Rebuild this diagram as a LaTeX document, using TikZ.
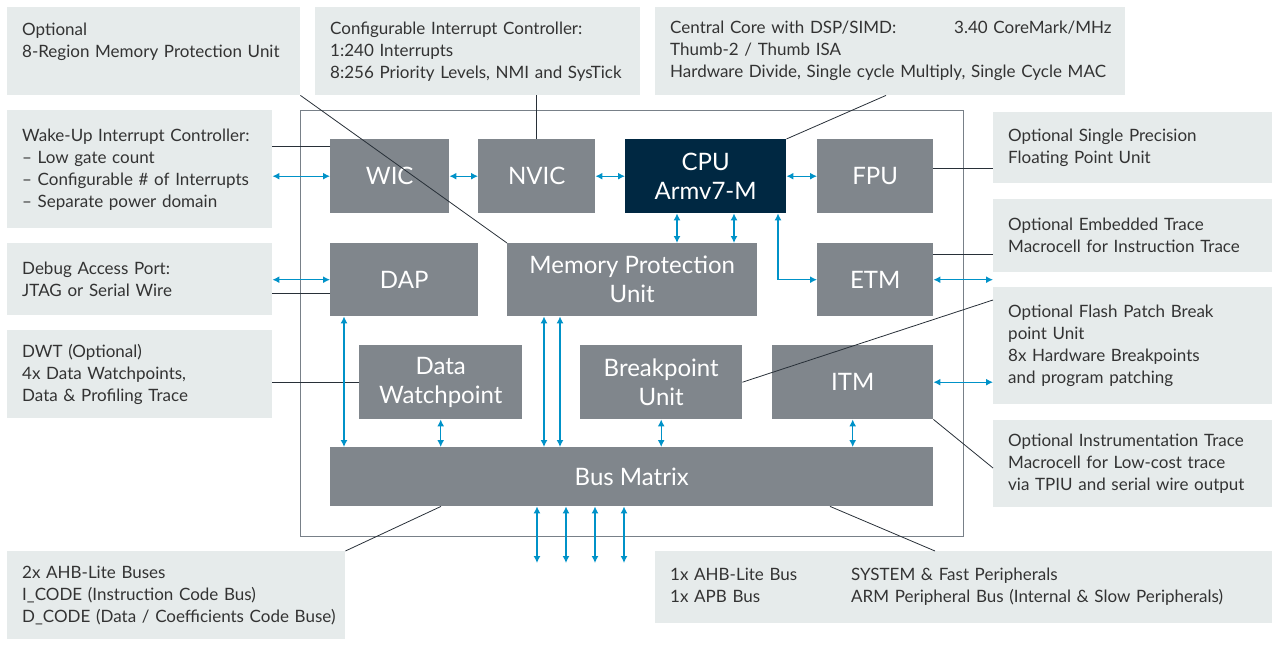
\documentclass[tikz,border=0pt]{standalone}
\usepackage{fontspec}
\setmainfont{Lato}
\usetikzlibrary{arrows.meta}
\definecolor{notefill}{RGB}{230,235,235}
\definecolor{notetext}{RGB}{51,51,51}
\definecolor{blkfill}{RGB}{128,134,140}
\definecolor{cpufill}{RGB}{0,40,66}
\definecolor{linkblue}{RGB}{0,146,200}
\definecolor{wiregray}{RGB}{40,48,56}
\definecolor{framegray}{RGB}{120,128,136}
\begin{document}
\begin{tikzpicture}[x=1pt,y=-1pt,
    note/.style={fill=notefill,text=notetext,anchor=north west,inner xsep=15pt,inner ysep=0pt,align=left,font=\fontsize{17}{22}\selectfont},
    blk/.style={fill=blkfill,text=white,anchor=north west,inner sep=0pt,align=center,font=\fontsize{24}{29}\selectfont},
    link/.style={draw=linkblue,line width=1.3pt,{Latex[length=7pt,width=7pt]}-{Latex[length=7pt,width=7pt]}},
    wire/.style={draw=wiregray,line width=0.8pt}]
    \useasboundingbox (0,0) rectangle (1279,645);
    \node[draw=framegray,line width=1.2pt,anchor=north west,inner sep=0pt,minimum width=663pt,minimum height=426pt] (chip) at (300,110) {};

    \node[note,text width=263pt,minimum height=88pt] (mpunote) at (7,7) {Optional\\8-Region Memory Protection Unit\\\mbox{}};
    \node[note,text width=295pt,minimum height=88pt] (nvicnote) at (315,7) {Configurable Interrupt Controller:\\1:240 Interrupts\\8:256 Priority Levels, NMI and SysTick};
    \node[note,text width=440pt,minimum height=88pt] (cpunote) at (655,7) {\makebox[284pt][l]{Central Core with DSP/SIMD:}\mbox{3.40 CoreMark/MHz}\\Thumb-2 / Thumb ISA\\Hardware Divide, Single cycle Multiply, Single Cycle MAC};
    \node[note,text width=235pt,minimum height=118pt] (wicnote) at (7,110) {Wake-Up Interrupt Controller:\\-- Low gate count\\-- Configurable \# of Interrupts\\-- Separate power domain};
    \node[note,text width=235pt,minimum height=72pt] (dapnote) at (7,243) {Debug Access Port:\\JTAG or Serial Wire};
    \node[note,text width=235pt,minimum height=88pt] (dwtnote) at (7,330) {DWT (Optional)\\4x Data Watchpoints,\\Data \& Profiling Trace};
    \node[note,text width=308pt,minimum height=88pt] (busnotea) at (7,551) {2x AHB-Lite Buses\\I\_CODE (Instruction Code Bus)\\\mbox{D\_CODE (Data / Coefficients Code Buse)}};
    \node[note,text width=249pt,minimum height=71pt] (fpunote) at (993,112) {Optional Single Precision\\Floating Point Unit};
    \node[note,text width=249pt,minimum height=73pt] (etmnote) at (993,199) {Optional Embedded Trace\\Macrocell for Instruction Trace};
    \node[note,text width=249pt,minimum height=117pt] (fpbnote) at (993,287) {Optional Flash Patch Break\\point Unit\\8x Hardware Breakpoints\\and program patching};
    \node[note,text width=249pt,minimum height=87pt] (itmnote) at (993,420) {Optional Instrumentation Trace\\Macrocell for Low-cost trace\\via TPIU and serial wire output};
    \node[note,text width=587pt,minimum height=72pt] (busnoteb) at (655,551) {\begin{tabular}{@{}p{181pt}@{}l@{}}1x AHB-Lite Bus & SYSTEM \& Fast Peripherals\\1x APB Bus & ARM Peripheral Bus (Internal \& Slow Peripherals)\end{tabular}};

    \node[blk,minimum width=119pt,minimum height=74pt] (wic) at (330,139) {WIC};
    \node[blk,minimum width=117pt,minimum height=74pt] (nvic) at (478,139) {NVIC};
    \node[blk,fill=cpufill,minimum width=161pt,minimum height=74pt] (cpu) at (625,139) {CPU\\Armv7-M};
    \node[blk,minimum width=116pt,minimum height=74pt] (fpu) at (817,139) {FPU};
    \node[blk,minimum width=148pt,minimum height=73pt] (dap) at (330,243) {DAP};
    \node[blk,minimum width=250pt,minimum height=73pt] (mpu) at (507,243) {Memory Protection\\Unit};
    \node[blk,minimum width=116pt,minimum height=73pt] (etm) at (817,243) {ETM};
    \node[blk,minimum width=163pt,minimum height=74pt] (dw) at (359,345) {Data\\Watchpoint};
    \node[blk,minimum width=162pt,minimum height=74pt] (bp) at (580,345) {Breakpoint\\Unit};
    \node[blk,minimum width=161pt,minimum height=74pt] (itm) at (772,345) {ITM};
    \node[blk,minimum width=603pt,minimum height=59pt] (bus) at (330,447) {Bus Matrix};

    \draw[wire] (mpunote.south east) -- (mpu.north west);
    \draw[wire] (nvic.north |- nvicnote.south) -- (nvic.north);
    \draw[wire] ([xshift=231pt]cpunote.south west) -- (cpu.north east);
    \draw[wire] ([yshift=-7pt]wic.north west) -- ([yshift=-7pt]wic.north west -| wicnote.east);
    \draw[wire] ([yshift=-50pt]dap.north west) -- ([yshift=-50pt]dap.north west -| dapnote.east);
    \draw[wire] (dw.west) -- (dw.west -| dwtnote.east);
    \draw[wire] ([yshift=8pt]fpu.east) -- ([yshift=8pt]fpu.east -| fpunote.west);
    \draw[wire] ([yshift=-11pt]etm.north east) -- ([yshift=-11pt]etm.north east -| etmnote.west);
    \draw[wire] (bp.east) -- ([yshift=-13pt]fpbnote.north west);
    \draw[wire] (itm.south east) -- ([yshift=-48pt]itmnote.north west);
    \draw[wire] ([xshift=111pt]bus.south west) -- (busnotea.north east);
    \draw[wire] ([xshift=500pt]bus.south west) -- ([xshift=280pt]busnoteb.north west);

    \draw[link] (wic.west -| wicnote.east) -- (wic.west);
    \draw[link] (wic) -- (nvic);
    \draw[link] (nvic) -- (cpu);
    \draw[link] (cpu) -- (fpu);
    \foreach \dx in {52,109} {
        \draw[link] ([xshift=\dx pt]cpu.south west) -- ([xshift=\dx pt]cpu.south west |- mpu.north);
    }
    \draw[link] ([xshift=153pt]cpu.south west) |- (etm.west);
    \draw[link] (etm.east) -- (etm.east -| etmnote.west);
    \draw[link] (dap.west -| dapnote.east) -- (dap.west);
    \draw[link] ([xshift=14pt]dap.south west) -- ([xshift=14pt]dap.south west |- bus.north);
    \foreach \dx in {37,53} {
        \draw[link] ([xshift=\dx pt]mpu.south west) -- ([xshift=\dx pt]mpu.south west |- bus.north);
    }
    \draw[link] (dw) -- (dw |- bus.north);
    \draw[link] (bp) -- (bp |- bus.north);
    \draw[link] (itm) -- (itm |- bus.north);
    \draw[link] (itm.east) -- (itm.east -| fpbnote.west);
    \foreach \i/\x in {1/537,2/566,3/595,4/624} {
        \coordinate (port\i) at (\x,563);
        \draw[link] (port\i |- bus.south) -- (port\i);
    }
\end{tikzpicture}
\end{document}
